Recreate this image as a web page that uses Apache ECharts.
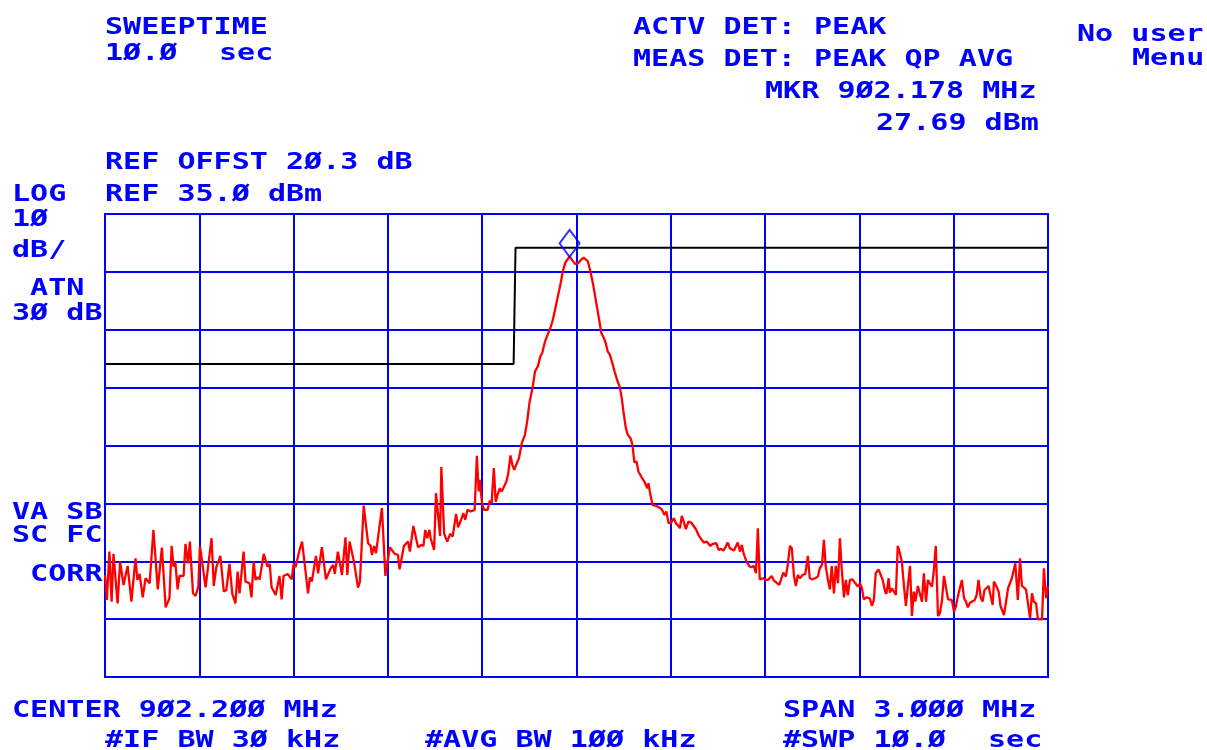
<!DOCTYPE html>
<html>
<head>
<meta charset="utf-8">
<script src="https://cdn.jsdelivr.net/npm/echarts@6/dist/echarts.min.js"></script>
<style>
  html, body { margin: 0; padding: 0; background: #fff; }
  #chart { width: 1207px; height: 750px; }
</style>
</head>
<body>
<div id="chart"></div>
<script>
// analyzer settings
const centerMHz = 902.2;
const spanMHz = 3.0;
const refLevel = 35.0;   // dBm, top of screen
const dbPerDiv = 10;

const traceFreq = [
  900.700, 900.706, 900.714, 900.721, 900.727, 900.740, 900.748, 900.759, 900.765, 900.772,
  900.784, 900.797, 900.803, 900.810, 900.820, 900.829, 900.842, 900.854, 900.868, 900.881,
  900.893, 900.905, 900.912, 900.918, 900.924, 900.931, 900.937, 900.950, 900.956, 900.964,
  900.970, 900.980, 900.988, 900.997, 901.002, 901.020, 901.039, 901.046, 901.054, 901.060,
  901.067, 901.078, 901.086, 901.096, 901.105, 901.115, 901.122, 901.128, 901.141, 901.147,
  901.160, 901.166, 901.173, 901.179, 901.185, 901.192, 901.205, 901.211, 901.217, 901.224,
  901.230, 901.243, 901.249, 901.255, 901.262, 901.268, 901.281, 901.294, 901.300, 901.306,
  901.319,
  901.327, 901.335, 901.346, 901.352, 901.358, 901.371, 901.378, 901.390, 901.403, 901.418,
  901.426, 901.431, 901.441, 901.454, 901.465, 901.471, 901.478, 901.492, 901.505, 901.511,
  901.523, 901.537, 901.545, 901.549, 901.556, 901.562, 901.581, 901.592, 901.606, 901.622,
  901.632, 901.637, 901.651, 901.664, 901.670, 901.681, 901.687, 901.696, 901.706, 901.713,
  901.719, 901.725, 901.732, 901.736, 901.747, 901.753, 901.766, 901.770, 901.779, 901.789,
  901.798, 901.806, 901.817, 901.823, 901.832, 901.840, 901.846, 901.853, 901.863, 901.876,
  901.883, 901.889,
  901.892, 901.900, 901.907, 901.917, 901.924, 901.930, 901.937, 901.943, 901.949, 901.956,
  901.962, 901.968, 901.977, 901.983, 901.990, 901.996, 902.002, 902.009, 902.017, 902.026,
  902.036, 902.043, 902.051, 902.060, 902.068, 902.077, 902.085, 902.091, 902.100, 902.108,
  902.117, 902.125, 902.134, 902.142, 902.151, 902.155, 902.164, 902.178, 902.188, 902.196,
  902.206, 902.215, 902.223, 902.229, 902.236, 902.244, 902.253, 902.263, 902.272, 902.279,
  902.287, 902.293, 902.299, 902.306, 902.314, 902.321, 902.329, 902.338, 902.344, 902.350,
  902.357, 902.363, 902.372, 902.378, 902.384, 902.391, 902.397, 902.406, 902.416, 902.425,
  902.429, 902.435, 902.442, 902.454, 902.463,
  902.471, 902.480, 902.486, 902.493, 902.501, 902.510, 902.516, 902.524, 902.529, 902.535,
  902.541, 902.548, 902.556, 902.565, 902.571, 902.580, 902.588, 902.597, 902.605, 902.614,
  902.620, 902.626, 902.633, 902.639, 902.645, 902.652, 902.660, 902.667, 902.675, 902.681,
  902.688, 902.694, 902.701, 902.707, 902.713, 902.720, 902.726, 902.732, 902.741, 902.749,
  902.756, 902.764, 902.771, 902.777, 902.783, 902.794, 902.802, 902.809, 902.815, 902.821,
  902.828, 902.836, 902.845, 902.851, 902.858, 902.866, 902.872, 902.879, 902.885, 902.892,
  902.898, 902.904, 902.911, 902.919, 902.928, 902.936, 902.942, 902.949, 902.959, 902.968,
  902.974, 902.981, 902.987, 902.993, 903.000, 903.006, 903.012, 903.019, 903.025, 903.032,
  903.038, 903.044, 903.051, 903.057, 903.063, 903.070, 903.078, 903.087, 903.095, 903.102,
  903.108, 903.114, 903.123, 903.133, 903.140, 903.146, 903.152, 903.161, 903.167, 903.174,
  903.182, 903.186, 903.193, 903.197, 903.203, 903.210, 903.216, 903.222, 903.229, 903.235,
  903.242, 903.248, 903.254, 903.261, 903.267, 903.273, 903.278, 903.286, 903.292, 903.299,
  903.305, 903.312, 903.318, 903.324, 903.331, 903.337, 903.343, 903.350, 903.356, 903.363,
  903.369, 903.375, 903.382, 903.388, 903.394, 903.401, 903.407, 903.413, 903.426, 903.433,
  903.439, 903.445, 903.452, 903.458, 903.467, 903.473, 903.479, 903.486, 903.492, 903.498,
  903.511, 903.517, 903.524, 903.528, 903.534, 903.543, 903.549, 903.560, 903.573, 903.579,
  903.585, 903.596, 903.604, 903.611, 903.617, 903.630, 903.636, 903.643, 903.649, 903.655,
  903.662, 903.668, 903.681, 903.687, 903.694, 903.700
];
const traceLevel = [
  -27.40, -31.69, -23.33, -31.98, -23.73, -32.27, -25.06, -29.10, -29.27, -25.81,
  -31.98, -24.48, -28.23, -27.19, -31.23, -27.94, -28.81, -19.58, -29.85, -22.64,
  -32.96, -31.40, -22.35, -25.92, -25.23, -29.85, -27.54, -27.54, -22.00, -25.35,
  -21.60, -30.54, -31.00, -29.38, -22.35, -29.50, -21.02, -29.27, -26.04, -26.04,
  -24.08, -30.25, -29.96, -25.46, -30.65, -32.27, -26.79, -30.54, -23.33, -28.52,
  -28.81, -31.23, -25.06, -28.23, -27.77, -28.12, -23.73, -23.62, -25.92, -25.46,
  -29.50, -30.83, -31.00, -27.54, -31.58, -27.54, -27.19, -28.12, -25.46, -26.04,
  -23.04,
  -21.60, -25.35, -30.54, -27.77, -28.52, -24.08, -27.08, -22.58, -28.12, -26.21,
  -25.64, -27.19, -23.33, -27.37, -20.85, -27.37, -21.60, -25.06, -29.56, -28.52,
  -15.37, -21.89, -22.35, -23.91, -22.35, -23.62, -15.83, -27.54, -22.58, -23.73,
  -23.91, -26.39, -22.35, -21.60, -23.33, -18.89, -18.89, -22.58, -22.18, -22.35,
  -19.58, -21.02, -19.58, -21.02, -23.04, -13.24, -20.62, -8.74, -20.27, -21.60,
  -20.27, -20.73, -16.81, -19.12, -17.97, -16.70, -17.85, -16.12, -16.41, -16.12,
  -6.78, -12.95,
  -10.94, -15.26, -16.13, -16.13, -14.57, -14.97, -8.92, -14.69, -13.53, -12.38,
  -12.96, -12.67, -11.23, -9.78, -6.73, -8.34, -9.21, -8.23, -7.19, -4.59,
  -3.15, -0.85, 2.61, 4.92, 7.81, 8.67, 10.40, 10.98, 13.00, 14.15,
  15.30, 16.74, 19.05, 21.07, 23.38, 24.82, 26.55, 27.69, 26.90, 26.37,
  26.55, 27.12, 27.45, 27.55, 26.84, 25.11, 22.80, 19.63, 16.74, 14.44,
  13.57, 12.71, 11.27, 10.69, 9.25, 7.81, 6.36, 5.04, 3.19, 0.60,
  -2.00, -3.15, -3.73, -4.88, -7.88, -7.77, -9.50, -10.36, -11.23, -12.38,
  -11.52, -13.53, -15.26, -15.44, -15.72,
  -16.00, -16.99, -16.41, -18.43, -18.31, -17.56, -18.43, -18.89, -19.29, -17.16,
  -18.14, -19.47, -18.14, -18.31, -18.14, -19.47, -20.45, -21.20, -21.77, -21.60,
  -21.89, -22.35, -22.00, -22.18, -21.89, -23.04, -22.87, -23.16, -22.46, -21.77,
  -22.75, -22.46, -23.16, -22.46, -21.77, -23.33, -22.18, -23.73, -25.06, -25.81,
  -26.04, -25.81, -27.08, -19.29, -28.12, -27.94, -28.23, -28.23, -27.94, -27.54,
  -28.35, -28.69, -29.10, -29.27, -26.96, -27.65, -25.64, -22.35, -22.75, -27.65,
  -29.27, -27.37, -27.94, -27.37, -27.19, -24.08, -27.94, -28.12, -27.94, -27.65,
  -26.21, -25.64, -21.31, -25.92, -28.23, -29.85, -25.81, -30.54, -25.81, -28.81,
  -21.02, -26.50, -31.23, -28.23, -30.83, -28.23, -28.12, -28.81, -29.38, -28.81,
  -29.67, -31.58, -31.23, -31.40, -32.73, -31.69, -27.08, -26.39, -26.21, -28.23,
  -30.25, -30.65, -27.94, -30.42, -29.67, -30.25, -30.83, -22.35, -23.62, -25.06,
  -29.38, -32.73, -29.38, -25.81, -34.46, -30.25, -31.98, -29.27, -30.54, -31.98,
  -27.08, -31.98, -28.23, -28.81, -29.38, -26.50, -22.35, -34.46, -34.00, -31.69,
  -27.54, -29.38, -31.58, -31.40, -31.69, -33.71, -32.84, -31.11, -28.23, -31.40,
  -31.98, -32.96, -32.15, -32.38, -31.69, -30.83, -28.23, -31.23, -31.98, -29.96,
  -29.27, -30.83, -32.56, -28.52, -29.10, -30.25, -32.73, -34.29, -29.67, -29.67,
  -27.94, -25.35, -31.69, -24.48, -29.27, -29.85, -30.08, -34.86, -30.54, -31.98,
  -32.27, -35.04, -35.04, -26.21, -31.40, -29.38
];

// limit line (MHz / dBm)
const limitFreq = [900.700, 902.000, 902.006, 903.700];
const limitLevel = [9.1, 9.1, 29.15, 29.15];

// marker
const markerFreq = [902.178];
const markerLevel = [27.69];

const BLUE = '#0000ff';

// x in kHz from center, y in dB below reference (keeps tick origin on the grid edge)
const halfSpanKHz = spanMHz * 1000 / 2;
const toX = f => Math.round((f - centerMHz) * 1e6) / 1e3;
const toY = v => v - refLevel;
const pairs = (fs, vs) => fs.map((f, i) => [toX(f), toY(vs[i])]);

// screen annotations: text, left, middle
const labels = [
  ['SWEEPTIME', 105, 28],
  ['1Ø.Ø', 105, 53.5],
  ['sec', 219, 53.5],
  ['REF OFFST 2Ø.3 dB', 105, 163],
  ['LOG', 12, 194.5],
  ['REF 35.Ø dBm', 105, 194.5],
  ['1Ø', 12, 219.5],
  ['dB/', 12, 250.5],
  [' ATN', 12, 289],
  ['3Ø dB', 12, 313.5],
  ['VA SB', 12, 513],
  ['SC FC', 12, 536.3],
  [' CORR', 12, 575],
  ['ACTV DET: PEAK', 633, 28],
  ['MEAS DET: PEAK QP AVG', 633, 60],
  ['MKR 9Ø2.178 MHz', 765, 92],
  ['27.69 dBm', 876, 124],
  ['No user', 1077, 35],
  ['Menu', 1132, 59],
  ['CENTER 9Ø2.2ØØ MHz', 12, 711],
  ['#IF BW 3Ø kHz', 105, 741],
  ['#AVG BW 1ØØ kHz', 425, 741],
  ['SPAN 3.ØØØ MHz', 783, 711],
  ['#SWP 1Ø.Ø', 783, 741],
  ['sec', 988, 741]
];

const fontSize = 22;
const pitch = 18.1;
const sx = pitch / (fontSize * 0.602);

const chart = echarts.init(document.getElementById('chart'));

const option = {
  animation: false,
  backgroundColor: '#ffffff',
  grid: {
    left: 105, right: 159, top: 214, bottom: 73,
    show: true,
    borderColor: BLUE,
    borderWidth: 2,
    backgroundColor: 'transparent'
  },
  xAxis: {
    type: 'value',
    min: -halfSpanKHz,
    max: halfSpanKHz,
    interval: spanMHz * 100,
    axisLine: { show: false },
    axisTick: { show: false },
    axisLabel: { show: false },
    splitLine: { show: true, lineStyle: { color: BLUE, width: 2 } }
  },
  yAxis: {
    type: 'value',
    min: -8 * dbPerDiv,
    max: 0,
    interval: dbPerDiv,
    axisLine: { show: false },
    axisTick: { show: false },
    axisLabel: { show: false },
    splitLine: { show: true, lineStyle: { color: BLUE, width: 2 } }
  },
  series: [
    {
      name: 'limit',
      type: 'line',
      showSymbol: false,
      lineStyle: { color: '#000000', width: 2 },
      data: pairs(limitFreq, limitLevel),
      z: 3
    },
    {
      name: 'trace',
      type: 'line',
      showSymbol: false,
      lineStyle: { color: '#ff0000', width: 2.3 },
      data: pairs(traceFreq, traceLevel),
      z: 4
    },
    {
      name: 'marker',
      type: 'scatter',
      symbol: 'diamond',
      symbolSize: [20, 27],
      symbolOffset: [0, -13],
      itemStyle: { color: 'rgba(0,0,0,0)', borderColor: BLUE, borderWidth: 2 },
      data: pairs(markerFreq, markerLevel),
      z: 5
    }
  ],
  graphic: labels.map(([text, x, y]) => ({
    type: 'text',
    x: x,
    y: y,
    scaleX: sx,
    scaleY: 1.05,
    silent: true,
    style: {
      text: text,
      x: 0,
      y: 0,
      fill: BLUE,
      fontFamily: 'DejaVu Sans Mono',
      fontWeight: 'bold',
      fontSize: fontSize,
      verticalAlign: 'middle',
      align: 'left'
    }
  }))
};

chart.setOption(option);
</script>
</body>
</html>
